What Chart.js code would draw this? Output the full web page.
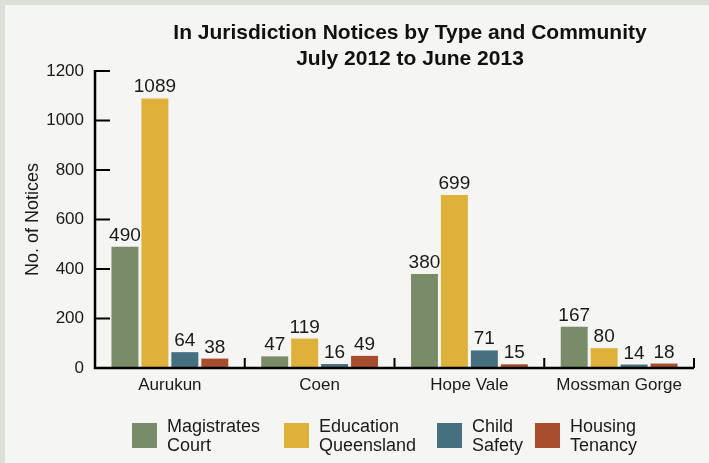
<!DOCTYPE html>
<html>
<head>
<meta charset="utf-8">
<script src="https://cdn.jsdelivr.net/npm/chart.js@4.4.1/dist/chart.umd.min.js"></script>
<style>
  html, body { margin: 0; padding: 0; background: #dde0d8; }
  #wrap { position: absolute; left: 5px; top: 5px; width: 704px; height: 458px; background: #f5f5f3; }
  canvas { display: block; }
</style>
</head>
<body>
<div id="wrap"><canvas id="chart" width="704" height="458"></canvas></div>
<script>
const communities = ["Aurukun", "Coen", "Hope Vale", "Mossman Gorge"];
const seriesNames = [["Magistrates", "Court"], ["Education", "Queensland"], ["Child", "Safety"], ["Housing", "Tenancy"]];
const magistrates = [490, 47, 380, 167];
const education = [1089, 119, 699, 80];
const childSafety = [64, 16, 71, 14];
const housing = [38, 49, 15, 18];
const yTicks = [0, 200, 400, 600, 800, 1000, 1200];
const titleLines = ["In Jurisdiction Notices by Type and Community", "July 2012 to June 2013"];
const colors = ["#7a8b69", "#ddb13a", "#466f80", "#a84e2e"];

const font = "Liberation Sans, Arial, sans-serif";

// title, bar value labels, axis lines, inward ticks and the two-line legend
const extras = {
  id: "extras",
  afterDatasetsDraw(chart) {
    const ctx = chart.ctx;
    const x = chart.scales.x, y = chart.scales.y;
    ctx.save();

    ctx.fillStyle = "#111";
    ctx.font = "bold 21px " + font;
    ctx.textAlign = "center";
    ctx.textBaseline = "alphabetic";
    ctx.fillText(titleLines[0], 405, 34);
    ctx.fillText(titleLines[1], 405, 60);

    ctx.fillStyle = "#1a1a1a";
    ctx.font = "19px " + font;
    chart.data.datasets.forEach((ds, i) => {
      chart.getDatasetMeta(i).data.forEach((bar, j) => {
        ctx.fillText(ds.data[j], bar.x, bar.y - 6);
      });
    });

    // axes
    ctx.strokeStyle = "#000";
    ctx.lineWidth = 2.5;
    const y0 = y.getPixelForValue(0);
    ctx.beginPath();
    ctx.moveTo(x.left, y.getPixelForValue(1200) - 1);
    ctx.lineTo(x.left, y0);
    ctx.lineTo(x.right, y0);
    ctx.stroke();
    ctx.lineWidth = 2;
    yTicks.forEach(v => {
      if (v === 0) return;
      const py = y.getPixelForValue(v);
      ctx.beginPath();
      ctx.moveTo(x.left, py);
      ctx.lineTo(x.left + 15, py);
      ctx.stroke();
    });
    const step = (x.right - x.left) / communities.length;
    for (let k = 1; k <= communities.length; k++) {
      const px = x.left + step * k;
      ctx.beginPath();
      ctx.moveTo(px, y0);
      ctx.lineTo(px, y0 - 10);
      ctx.stroke();
    }

    // legend
    const boxX = [127, 279, 432, 530];
    ctx.font = "18px " + font;
    ctx.textAlign = "left";
    seriesNames.forEach((lines, i) => {
      ctx.fillStyle = colors[i];
      ctx.fillRect(boxX[i], 418, 25, 25);
      ctx.fillStyle = "#1a1a1a";
      ctx.fillText(lines[0], boxX[i] + 35, 427);
      ctx.fillText(lines[1], boxX[i] + 35, 446);
    });
    ctx.restore();
  }
};

new Chart(document.getElementById("chart"), {
  type: "bar",
  data: {
    labels: communities,
    datasets: [
      { label: seriesNames[0].join(" "), data: magistrates, backgroundColor: colors[0] },
      { label: seriesNames[1].join(" "), data: education, backgroundColor: colors[1] },
      { label: seriesNames[2].join(" "), data: childSafety, backgroundColor: colors[2] },
      { label: seriesNames[3].join(" "), data: housing, backgroundColor: colors[3] },
    ],
  },
  options: {
    responsive: false,
    animation: false,
    layout: { padding: { left: 0, right: 15, top: 66, bottom: 0 } },
    datasets: { bar: { categoryPercentage: 0.8, barPercentage: 0.9 } },
    plugins: {
      legend: { display: false },
      tooltip: { enabled: false },
    },
    scales: {
      x: {
        afterFit(axis) { axis.height = 95; },
        grid: { display: false, drawTicks: false },
        border: { display: false },
        ticks: { color: "#1a1a1a", font: { family: font, size: 17 }, padding: 7 },
      },
      y: {
        min: 0,
        max: 1200,
        afterFit(axis) { axis.width = 90; },
        afterBuildTicks(axis) { axis.ticks = yTicks.map(v => ({ value: v })); },
        grid: { display: false, drawTicks: false },
        border: { display: false },
        ticks: { color: "#1a1a1a", font: { family: font, size: 17 }, padding: 11, callback: v => String(v) },
        title: {
          display: true,
          text: "No. of Notices",
          color: "#1a1a1a",
          font: { family: font, size: 18 },
          padding: { top: 17, bottom: 0 },
        },
      },
    },
  },
  plugins: [extras],
});
</script>
</body>
</html>
